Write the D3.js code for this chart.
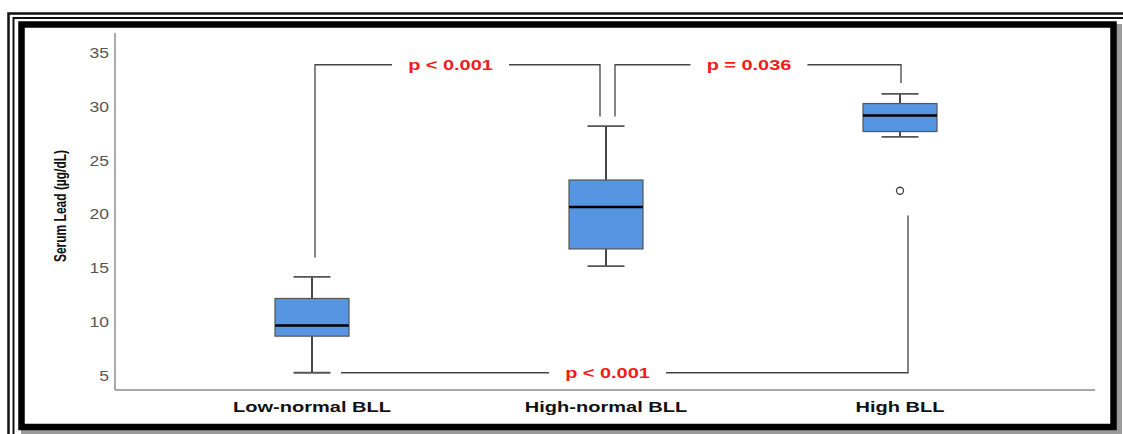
<!DOCTYPE html>
<html>
<head>
<meta charset="utf-8">
<script src="https://cdn.jsdelivr.net/npm/d3@7"></script>
<style>
  body { margin: 0; background: #fff; }
  svg { display: block; font-family: "Liberation Sans", Arial, sans-serif; }
</style>
</head>
<body>
<svg id="chart" width="1123" height="434"></svg>
<script>
// values
var groups = ["Low-normal BLL", "High-normal BLL", "High BLL"];
var whiskerLow  = [5.3, 15.2, 27.2];
var q1          = [8.7, 16.8, 27.7];
var medians     = [9.7, 20.7, 29.2];
var q3          = [12.2, 23.2, 30.3];
var whiskerHigh = [14.2, 28.2, 31.2];
var outliers = [{group: "High BLL", value: 22.2}];
var yTicks = [5, 10, 15, 20, 25, 30, 35];
var yTitle = "Serum Lead (\u00b5g/dL)";

// significance brackets: level of the bar, where each leg stops (null = no leg)
var comparisons = [
  {from: "Low-normal BLL",  to: "High-normal BLL", level: 33.9, fromEnd: 16.0, toEnd: 29.1, label: "p < 0.001"},
  {from: "High-normal BLL", to: "High BLL",        level: 33.9, fromEnd: 29.1, toEnd: 32.2, label: "p = 0.036"},
  {from: "Low-normal BLL",  to: "High BLL",        level: 5.3,  fromEnd: null, toEnd: 19.9, label: "p < 0.001"}
];

var svg = d3.select("#chart");

// picture frame: two thin lines, then a thick border with a grey shadow
svg.append("rect").attr("x", 8.5).attr("y", 13.5).attr("width", 1130).attr("height", 440)
  .attr("fill", "none").attr("stroke", "#111").attr("stroke-width", 2.5);
svg.append("rect").attr("x", 13.5).attr("y", 18).attr("width", 1130).attr("height", 440)
  .attr("fill", "none").attr("stroke", "#111").attr("stroke-width", 2);
svg.append("rect").attr("x", 24).attr("y", 27).attr("width", 1095).attr("height", 405)
  .attr("fill", "none").attr("stroke", "#9a9a9a").attr("stroke-width", 6);
svg.append("rect").attr("x", 21.5).attr("y", 24.5).attr("width", 1092).attr("height", 402.5)
  .attr("fill", "#fff").attr("stroke", "#000").attr("stroke-width", 6.5);

var plotLeft = 115, plotRight = 1095, plotTop = 33, plotBottom = 390;

var y = d3.scaleLinear().domain([3.7, 36.85]).range([plotBottom, plotTop]);
var x = d3.scaleBand().domain(groups).range([165, 1047]).padding(0);
var cx = function(g) { return x(g) + x.bandwidth() / 2; };
var boxW = 74, capW = 37;

// y axis labels (SPSS style: no tick marks)
var yAxis = svg.append("g").attr("transform", "translate(" + plotLeft + ",0)")
  .call(d3.axisLeft(y).tickValues(yTicks).tickSize(0).tickPadding(6));
yAxis.select(".domain").remove();
yAxis.selectAll("text")
  .attr("fill", "#555").style("font-size", "14px")
  .attr("x", 0)
  .attr("transform", "translate(-6,0) scale(1.25,1)");

svg.append("line").attr("x1", plotLeft).attr("x2", plotLeft).attr("y1", plotTop).attr("y2", plotBottom)
  .attr("stroke", "#8c8c8c").attr("stroke-width", 1.5);
svg.append("line").attr("x1", plotLeft).attr("x2", plotRight).attr("y1", plotBottom).attr("y2", plotBottom)
  .attr("stroke", "#8c8c8c").attr("stroke-width", 1.5);

// category labels
svg.selectAll(".xLabel")
  .data(groups)
  .enter().append("text")
  .attr("class", "xLabel")
  .attr("transform", function(d) { return "translate(" + cx(d) + ",412) scale(1.43,1)"; })
  .attr("text-anchor", "middle")
  .style("font-size", "14px").style("font-weight", "bold")
  .attr("fill", "#111")
  .text(function(d) { return d; });

// y title
svg.append("text")
  .attr("transform", "translate(66,206) scale(1.3,1) rotate(-90)")
  .attr("text-anchor", "middle")
  .style("font-size", "12px").style("font-weight", "bold")
  .attr("fill", "#111")
  .text(yTitle);

// boxes
var boxes = svg.selectAll(".box")
  .data(groups)
  .enter().append("g")
  .attr("class", "box");

boxes.append("line")
  .attr("x1", cx).attr("x2", cx)
  .attr("y1", function(d, i) { return y(whiskerLow[i]); })
  .attr("y2", function(d, i) { return y(whiskerHigh[i]); })
  .attr("stroke", "#333").attr("stroke-width", 1.8);

boxes.selectAll(".cap")
  .data(function(d, i) { return [{g: d, v: whiskerLow[i]}, {g: d, v: whiskerHigh[i]}]; })
  .enter().append("line")
  .attr("class", "cap")
  .attr("x1", function(d) { return cx(d.g) - capW / 2; })
  .attr("x2", function(d) { return cx(d.g) + capW / 2; })
  .attr("y1", function(d) { return y(d.v); })
  .attr("y2", function(d) { return y(d.v); })
  .attr("stroke", "#555").attr("stroke-width", 1.8);

boxes.append("rect")
  .attr("x", function(d) { return cx(d) - boxW / 2; })
  .attr("width", boxW)
  .attr("y", function(d, i) { return y(q3[i]); })
  .attr("height", function(d, i) { return y(q1[i]) - y(q3[i]); })
  .attr("fill", "#5595e1").attr("stroke", "#555").attr("stroke-width", 1.2);

boxes.append("line")
  .attr("x1", function(d) { return cx(d) - boxW / 2; })
  .attr("x2", function(d) { return cx(d) + boxW / 2; })
  .attr("y1", function(d, i) { return y(medians[i]); })
  .attr("y2", function(d, i) { return y(medians[i]); })
  .attr("stroke", "#000").attr("stroke-width", 2.5);

svg.selectAll(".outlier")
  .data(outliers)
  .enter().append("circle")
  .attr("class", "outlier")
  .attr("cx", function(d) { return cx(d.group); })
  .attr("cy", function(d) { return y(d.value); })
  .attr("r", 3.5)
  .attr("fill", "#fff").attr("stroke", "#444").attr("stroke-width", 1.3);

// significance brackets
var legShift = {"0from": 3, "0to": -6, "1from": 9, "1to": 1, "2from": 29, "2to": 8};
var textShift = [-7, -9, -17];

comparisons.forEach(function(c, i) {
  var x1 = cx(c.from) + legShift[i + "from"];
  var x2 = cx(c.to) + legShift[i + "to"];
  var ly = y(c.level);
  var tx = (x1 + x2) / 2 + textShift[i];
  var g = svg.append("g");

  var label = g.append("text")
    .attr("text-anchor", "middle")
    .style("font-size", "15px").style("font-weight", "bold")
    .attr("fill", "#f41a1a")
    .attr("transform", "translate(" + tx + "," + (ly + 5) + ") scale(1.33,1)")
    .text(c.label);
  var half = label.node().getBBox().width * 1.33 / 2 + 16;

  var pts1 = [], pts2 = [];
  if (c.fromEnd != null) pts1.push([x1, y(c.fromEnd)]);
  pts1.push([x1, ly], [tx - half, ly]);
  pts2.push([tx + half, ly], [x2, ly]);
  if (c.toEnd != null) pts2.push([x2, y(c.toEnd)]);

  [pts1, pts2].forEach(function(p) {
    g.append("path")
      .attr("d", d3.line()(p))
      .attr("fill", "none").attr("stroke", "#444").attr("stroke-width", 1.3);
  });
});
</script>
</body>
</html>
